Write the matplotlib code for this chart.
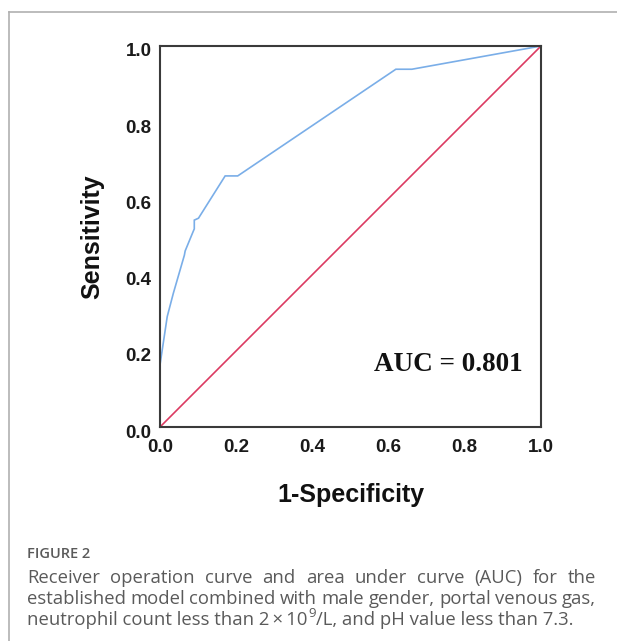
import matplotlib
matplotlib.use("Agg")
import matplotlib.pyplot as plt
from matplotlib.lines import Line2D
from matplotlib.transforms import ScaledTranslation

# ---- data ----
fpr = [0.0, 0.0, 0.019, 0.035, 0.064, 0.066, 0.087, 0.090, 0.090, 0.101,
       0.171, 0.204, 0.619, 0.661, 1.0]
tpr = [0.0, 0.163, 0.290, 0.351, 0.451, 0.462, 0.513, 0.520, 0.543, 0.548,
       0.659, 0.659, 0.939, 0.939, 1.0]
ref_x = [0.0, 1.0]
ref_y = [0.0, 1.0]
ticks = [0.0, 0.2, 0.4, 0.6, 0.8, 1.0]
tick_labels = ["0.0", "0.2", "0.4", "0.6", "0.8", "1.0"]
auc_text = "AUC = 0.801"
x_label = "1-Specificity"
y_label = "Sensitivity"
fig_label = "FIGURE 2"
caption_lines = [
    "Receiver operation curve and area under curve (AUC) for the",
    "established model combined with male gender, portal venous gas,",
]
caption_last_parts = ["neutrophil count less than 2\u2009\u00d7\u200910", "9",
                      "/L, and pH value less than 7.3."]

W, H = 617, 641
fig = plt.figure(figsize=(W / 100, H / 100), dpi=100)
fig.patch.set_facecolor("white")

ax = fig.add_axes([160 / W, 1 - 427 / H, 381 / W, 381 / H])
ax.plot(fpr, tpr, color="#7aaee8", lw=1.2, solid_joinstyle="miter")
ax.plot(ref_x, ref_y, color="#dc3a62", lw=1.2)
ax.set_xlim(0, 1)
ax.set_ylim(0, 1)
ax.set_xticks(ticks)
ax.set_yticks(ticks)
ax.set_xticklabels(tick_labels)
ax.set_yticklabels(tick_labels)
for s in ax.spines.values():
    s.set_color("#3a3a3a")
    s.set_linewidth(1.5)
ax.tick_params(length=0, pad=9, labelsize=13.5)
for lab in ax.get_xticklabels() + ax.get_yticklabels():
    lab.set_fontfamily("Liberation Sans")
    lab.set_fontweight("bold")
    lab.set_color("#1a1a1a")
ax.tick_params(axis="y", pad=6)
off = ScaledTranslation(0, -4 / 100, fig.dpi_scale_trans)
for lab in ax.get_yticklabels():
    lab.set_transform(lab.get_transform() + off)

ax.set_xlabel(x_label, family="Liberation Sans", weight="bold", size=18,
              labelpad=19, color="#111111")
ax.set_ylabel(y_label, family="Liberation Sans", weight="bold", size=18,
              labelpad=15, color="#111111")

ax.text(0.756, 0.163, auc_text, family="Liberation Serif", weight="bold",
        size=19.5, ha="center", va="center", transform=ax.transAxes,
        color="#111111")

# frame lines (top and left)
fig.add_artist(Line2D([9 / W, 1.0], [1 - 12 / H, 1 - 12 / H],
                      transform=fig.transFigure, color="#b0b0b0", lw=1.2))
fig.add_artist(Line2D([9 / W, 9 / W], [1 - 12 / H, 0.0],
                      transform=fig.transFigure, color="#b0b0b0", lw=1.2))

# caption
cap_color = "#5a5a5a"
cap_font = dict(family=["Open Sans", "DejaVu Sans"], size=13.3, color=cap_color)
fig.text(27 / W, 1 - 558 / H, fig_label, family=["Open Sans", "DejaVu Sans"],
         size=10.5, weight="semibold", color="#5a5a5a", ha="left", va="baseline")

renderer = fig.canvas.get_renderer()


def text_width(s, **kw):
    t = fig.text(0, 0, s, **kw)
    w = t.get_window_extent(renderer).width
    t.remove()
    return w


x0, x1 = 27, 596
baselines = [583, 604]
for line, yb in zip(caption_lines, baselines):
    words = line.split(" ")
    widths = [text_width(w, **cap_font) for w in words]
    gap = (x1 - x0 - sum(widths)) / (len(words) - 1)
    x = x0
    for w, wd in zip(words, widths):
        fig.text(x / W, 1 - yb / H, w, ha="left", va="baseline", **cap_font)
        x += wd + gap

# last line (left aligned, with superscript)
yb = 625
sup_font = dict(cap_font)
sup_font["size"] = 9.5
x = x0
fig.text(x / W, 1 - yb / H, caption_last_parts[0], ha="left", va="baseline", **cap_font)
x += text_width(caption_last_parts[0], **cap_font) + 0.5
fig.text(x / W, 1 - (yb - 8) / H, caption_last_parts[1], ha="left", va="baseline", **sup_font)
x += text_width(caption_last_parts[1], **sup_font) + 0.5
fig.text(x / W, 1 - yb / H, caption_last_parts[2], ha="left", va="baseline", **cap_font)

fig.savefig("out.png", dpi=100, facecolor="white")
